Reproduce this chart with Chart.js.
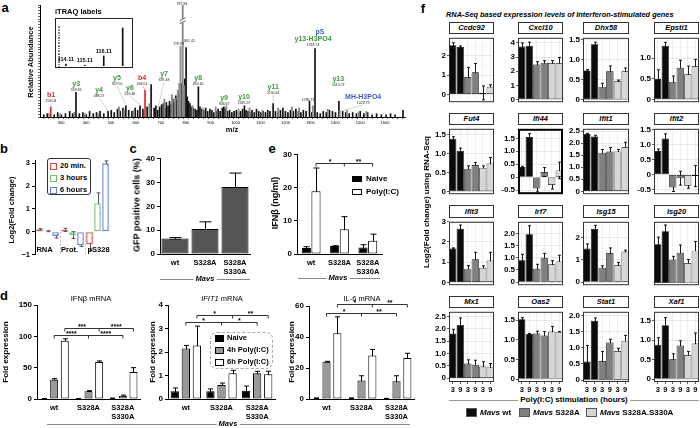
<!DOCTYPE html>
<html><head><meta charset="utf-8">
<script src="https://cdn.jsdelivr.net/npm/chart.js@4.4.1/dist/chart.umd.min.js"></script>
<style>
body{margin:0;background:#fff;}
#root{position:relative;width:700px;height:428px;overflow:hidden;background:#fff;font-family:'Liberation Sans',Arial,Helvetica,sans-serif;color:#000;}
#root canvas{position:absolute;}
.t{position:absolute;white-space:nowrap;font-weight:bold;line-height:1;}
</style></head><body><div id="root"></div>
<script>
// ---------------- DATA ----------------
// a: MS/MS spectrum
const aBlackMz = [230,244,272,286,301,317,334,346,359.36,373,387,401,414,429,442,456,471,488.27,501,513,526,537,548,559.5,571,584,597,607,616.48,628,645,661,673,680,687.48,695,703,710,716,722,729,735,742,748,754,760,765,770,783,791,796,801.41,806,811,817,823,830,838,845,850.62,857,864,872,880,888,897,905,913,922,930,938,946.67,953,960,968,976,985,994,1003,1012,1020,1028,1035.57,1042,1050,1058,1066,1075,1084,1093,1102,1111,1120,1129,1138,1150.64,1160,1170,1180,1190,1200,1210,1220,1232,1242,1252,1262,1272,1283,1296.73,1306,1318.74,1328,1340,1352,1364,1377,1389,1401,1414.73,1429.79,1442,1456,1470,1485,1500,1515,1530,1548,1566,1585,1604,1622,1640,1672];
const aBlackInt = [2,3,2,4,2,3,5,3,22,3,4,2,5,3,4,5,3,5,6,4,7,5,8,10,6,5,8,6,10,7,9,29,8,10,6,9,11,12,8,13,10,14,11,16,13,19,15,22,30,24,34,62,18,14,12,9,8,7,6,27,9,7,6,8,5,7,6,4,5,7,5,8,9,7,5,6,4,5,6,4,5,7,10,6,5,4,6,4,7,5,4,5,4,6,5,12,5,4,6,8,5,4,6,5,7,5,4,6,5,14,4,61,4,3,5,4,6,5,4,14,5,4,3,4,3,5,3,4,2,3,2,2,3,2,6];
const aGrayMz = [252,296,352,395,447,532,553,591,654,714,745,757,768,774,778.93,787.84,793,827,868,920,963,1012,1056,1108,1171,1226,1255,1310,1370,1418,1447,1494,1525];
const aGrayInt = [3,3,4,3,3,9,6,6,12,16,20,17,24,30,63,100,28,10,8,9,10,7,8,6,8,9,8,10,7,6,6,4,5];
const aRedMz = [258.03,636.51];
const aRedInt = [9,24];
const aAnnName = ['b1','y3','y4','y5','y6','b4','y7','','','','y8','y9','y10','y11','','y13-H3PO4','y13','MH-H3PO4'];
const aAnnNum = ['258.03','359.36','488.27','559.50','616.48','636.51','687.48','778.93','787.84','801.41','850.62','946.67','1035.57','1150.64','1296.73','1318.74','1414.73','1429.79'];
const aAnnKind = ['r','g','g','g','g','r','g','k','k','k','g','g','g','g','k','g','g','b'];
const aInsetMz = [114.11,115.11,116.11,117.11];
const aInsetInt = [5,2,25,95];
// b
const bGroups = ['RNA','Prot.','pS328'];
const b20 = [0.1,0.08,-0.55], b20Err = [0.03,0.07,0.27];
const b3h = [0.02,-0.15,1.25], b3hErr = [0.02,0.15,0.45];
const b6h = [-0.2,-0.6,3.0], b6hErr = [0.08,0.05,0.1];
// c
const mutLabels = ['wt','S328A',['S328A','S330A']];
const cGfp = [6.5,10.5,28.2], cGfpErr = [0.4,3.0,5.8];
// d
const dIfnN = [0.5,0.5,1.0], dIfnNErr = [0.2,0.2,0.5];
const dIfn4 = [31,12.5,5], dIfn4Err = [1.5,0.8,1.2];
const dIfn6 = [93,59,43], dIfn6Err = [3,1.8,7];
const dIfitN = [0.33,0.33,0.35], dIfitNErr = [0.14,0.1,0.2];
const dIfit4 = [2.15,0.6,1.1], dIfit4Err = [0.13,0.08,0.08];
const dIfit6 = [2.28,1.1,1.05], dIfit6Err = [0.82,0.12,0.13];
const dIl6N = [0.5,0.5,0.3], dIl6NErr = [0.2,0.2,0.1];
const dIl64 = [24,12,11.5], dIl64Err = [0.3,3,3.5];
const dIl66 = [42.5,28,26.5], dIl66Err = [10.5,4,3];
// e
const eNaive = [1.8,2.4,2.0], eNaiveErr = [0.4,0.1,0.8];
const ePoly = [19,7.5,4.0], ePolyErr = [7,3.8,2.0];
// f
const fGenes = ['Ccdc92','Cxcl10','Dhx58','Epsti1','Fut4','Ifi44','Ifit1','Ifit2','Ifit3','Irf7','Isg15','Isg20','Mx1','Oas2','Stat1','Xaf1'];
const fHours = ['3','9','3','9','3','9'];
const fMeans = [
 [2.55,2.45,0.9,1.15,0.08,0.4],
 [3.75,3.8,2.48,2.6,2.58,2.58],
 [0.73,1.38,0.32,0.71,0.46,0.71],
 [0.5,1.3,0.43,0.77,0.61,0.81],
 [1.4,1.08,0.6,0.7,0.63,0.74],
 [0.39,1.55,-0.44,0.2,-0.3,0.26],
 [2.38,2.28,1.6,1.66,1.66,1.84],
 [0.78,1.2,-0.43,-0.12,-0.37,-0.05],
 [1.68,2.66,0.68,1.14,0.72,1.08],
 [0.9,1.97,0.55,1.0,0.73,0.85],
 [1.5,2.38,0.64,1.3,0.75,1.37],
 [3.67,4.9,2.23,2.86,1.9,3.07],
 [1.81,2.16,0.6,0.55,0.48,0.45],
 [1.52,1.15,1.16,1.11,1.21,1.2],
 [0.57,1.83,0.59,1.16,0.9,1.21],
 [0.88,1.38,0.51,0.86,0.62,0.91]
];
const fErrs = [
 [0.12,0.06,0.5,0.45,0.36,0.1],
 [0.25,0.25,0.19,0.15,0.17,0.39],
 [0.02,0.05,0.09,0.13,0.03,0.08],
 [0.22,0.08,0.14,0.18,0.2,0.16],
 [0.05,0.07,0.08,0.07,0.05,0.16],
 [0.03,0.13,0.13,0.17,0.16,0.32],
 [0.03,0.05,0.14,0.16,0.08,0.2],
 [0.07,0.15,0.13,0.23,0.08,0.35],
 [0.03,0.18,0.15,0.35,0.1,0.41],
 [0.24,0.35,0.18,0.18,0.15,0.25],
 [0.21,0.16,0.09,0.23,0.13,0.06],
 [0.68,0.6,0.3,0.74,0.33,0.87],
 [0.17,0.28,0.15,0.18,0.19,0.15],
 [0.04,0.01,0.06,0.1,0.13,0.01],
 [0.5,0.09,0.29,0.1,0.08,0.17],
 [0.18,0.19,0.14,0.12,0.09,0.27]
];
const fMin = [-0.4,-0.18,-0.06,-0.06,-0.07,-0.66,-0.12,-0.65,-0.14,-0.13,-0.14,-0.2,-0.15,-0.07,-0.06,-0.07];
const fMax = [2.93,4.36,1.54,1.49,1.66,1.87,2.6,1.52,3.0,2.48,2.7,5.8,2.69,1.71,2.11,1.72];
const fStep = [1,1,0.5,0.5,0.5,0.5,0.5,0.5,1,0.5,1,2,0.5,0.5,0.5,0.5];

// ---------------- HELPERS ----------------
const FONT = "'Liberation Sans', Arial, Helvetica, sans-serif";
Chart.defaults.font.family = FONT;
Chart.defaults.font.weight = 'bold';
Chart.defaults.color = '#000';
Chart.defaults.animation = false;
Chart.defaults.events = [];
Chart.defaults.plugins.legend.display = false;
Chart.defaults.plugins.tooltip.enabled = false;
const root = document.getElementById('root');

function txt(html, x, y, size, o) {
  o = o || {};
  const d = document.createElement('div');
  d.className = 't'; d.innerHTML = html;
  d.style.left = x + 'px'; d.style.top = y + 'px'; d.style.fontSize = size + 'px';
  if (o.color) d.style.color = o.color;
  if (o.weight) d.style.fontWeight = o.weight;
  if (o.italic) d.style.fontStyle = 'italic';
  const ax = o.align === 'left' ? '0' : o.align === 'right' ? '-100%' : '-50%';
  d.style.transform = 'translate(' + ax + ',-50%)' + (o.rot ? ' rotate(-90deg)' : '');
  if (o.bg) { d.style.background = o.bg; d.style.padding = '0 2px'; }
  root.appendChild(d); return d;
}
function box(x, y, w, h, css) {
  const d = document.createElement('div');
  Object.assign(d.style, {position:'absolute', left:x+'px', top:y+'px', width:w+'px', height:h+'px', boxSizing:'border-box'}, css || {});
  root.appendChild(d); return d;
}
function mk(plot, m, type, data, scales, plugins) {
  const [x0,y0,x1,y1] = plot, [l,t,r,b] = m;
  const W = x1-x0+l+r, H = y1-y0+t+b;
  const c = document.createElement('canvas');
  c.width = W; c.height = H;
  Object.assign(c.style, {left:(x0-l)+'px', top:(y0-t)+'px', width:W+'px', height:H+'px'});
  root.appendChild(c);
  scales.x.afterFit = s => { s.height = b; };
  scales.y.afterFit = s => { s.width = l; };
  return new Chart(c, {type, data, plugins: plugins || [], options: {
    responsive:false, maintainAspectRatio:false, devicePixelRatio:1,
    layout:{padding:{top:t, right:r, left:0, bottom:0}, autoPadding:false},
    scales
  }});
}
const errPlugin = { id:'errbars', beforeDatasetsDraw(chart) {
  const ctx = chart.ctx, ys = chart.scales.y;
  chart.data.datasets.forEach((ds, i) => {
    if (!ds.errs) return;
    const meta = chart.getDatasetMeta(i);
    meta.data.forEach((bar, j) => {
      const e = ds.errs[j]; if (!e) return;
      const v = ds.data[j], x = Math.round(bar.x) + 0.5;
      const y1 = ys.getPixelForValue(v + e), y2 = ys.getPixelForValue(v - e), cw = ds.capW || 2;
      ctx.save(); ctx.strokeStyle = ds.errColor || '#000'; ctx.lineWidth = ds.errW || 1;
      ctx.beginPath(); ctx.moveTo(x, y1); ctx.lineTo(x, y2);
      ctx.moveTo(x-cw, y1); ctx.lineTo(x+cw, y1); ctx.moveTo(x-cw, y2); ctx.lineTo(x+cw, y2);
      ctx.stroke(); ctx.restore();
    });
  });
}};
function brackets(list) { return { id:'brackets', afterDatasetsDraw(chart) {
  const ctx = chart.ctx, ys = chart.scales.y;
  ctx.save(); ctx.strokeStyle = '#000'; ctx.lineWidth = 0.8; ctx.fillStyle = '#000';
  ctx.font = 'bold 7px ' + FONT; ctx.textAlign = 'center'; ctx.textBaseline = 'bottom';
  list.forEach(b => {
    const meta = chart.getDatasetMeta(b.ds);
    const xs = b.idx.map(i => meta.data[i].x);
    const y = Math.round(ys.getPixelForValue(b.y)) + 0.5;
    ctx.beginPath(); ctx.moveTo(xs[0], y); ctx.lineTo(xs[xs.length-1], y);
    xs.forEach(x => { ctx.moveTo(x, y); ctx.lineTo(x, y + 3); });
    ctx.stroke();
    b.txt.forEach((t, k) => ctx.fillText(t, (xs[k] + xs[k+1]) / 2, y + 2));
  });
  ctx.restore();
}}; }
function frame(color, w) { return { id:'frame', afterDraw(chart) {
  const a = chart.chartArea, ctx = chart.ctx;
  ctx.save(); ctx.strokeStyle = color; ctx.lineWidth = w;
  ctx.strokeRect(a.left + w/2, a.top + w/2, a.right - a.left - w, a.bottom - a.top - w);
  ctx.restore();
}}; }
const gpY = (min, max, step) => ({min, max, ticks:{stepSize:step, includeBounds:false, font:{size:8, weight:'bold'}, padding:2},
  grid:{drawOnChartArea:false, tickLength:3, color:'#000'}, border:{color:'#000', width:1}});
const gpX = () => ({grid:{drawOnChartArea:false, drawTicks:false, color:'#000'}, border:{color:'#000', width:1},
  ticks:{font:{size:7.5, weight:'bold'}, padding:4, maxRotation:0, autoSkip:false}});
const bar = (data, errs, fill, o) => Object.assign({data, errs, backgroundColor:fill, borderColor:'#000', borderWidth:1, borderSkipped:false, capW:2.5}, o || {});

// ---------------- PANEL LETTERS ----------------
txt('a', 5, 7, 13); txt('b', 4, 148, 13); txt('c', 133, 148, 13); txt('d', 4, 295, 13); txt('e', 272, 148, 13); txt('f', 423, 8, 13);

// ---------------- PANEL a ----------------
const COL = {r:'#e2262b', g:'#3c9a3c', b:'#3a5cc0', k:'#222'};
const aPlugin = { id:'aAnn', afterDatasetsDraw(chart) {
  const ctx = chart.ctx, xs = chart.scales.x, ys = chart.scales.y;
  // label positions (data units) for each annotation
  const pos = [[259,19.6],[360,29.5],[452,24.1],[524,34.8],[576,25.9],[625,34.8],[713,38.4],[771,65],[785,101],[815,68],[850,34.8],[954,17],[1034,17.9],[1151,26.8],[1291,15.2],[1311,69.6],[1412,33.9],[1512,17.9]];
  const leader = [0,0,1,1,1,1,1,0,0,0,0,0,0,1,0,0,0,1];
  ctx.save(); ctx.textAlign = 'center'; ctx.textBaseline = 'middle';
  const bx = xs.getPixelForValue(787.84), by = ys.getPixelForValue(86);
  ctx.fillStyle = '#fff'; ctx.fillRect(bx-3, by-2, 6, 4);
  ctx.strokeStyle = '#333'; ctx.lineWidth = 0.8; ctx.beginPath();
  ctx.moveTo(bx-3, by); ctx.lineTo(bx+3, by-3); ctx.moveTo(bx-3, by+3); ctx.lineTo(bx+3, by); ctx.stroke();
  aAnnNum.forEach((num, i) => {
    const px = xs.getPixelForValue(pos[i][0]), py = ys.getPixelForValue(pos[i][1]);
    const peak = parseFloat(num);
    const name = aAnnName[i];
    if (leader[i]) {
      const allMz = aBlackMz.concat(aGrayMz, aRedMz), allInt = aBlackInt.concat(aGrayInt, aRedInt);
      const k = allMz.findIndex(m => Math.abs(m - peak) < 0.01);
      const ptop = ys.getPixelForValue(k >= 0 ? allInt[k] : 3);
      ctx.strokeStyle = aAnnKind[i] === 'r' ? '#f08080' : '#a8d8a0';
      ctx.lineWidth = 0.7; ctx.beginPath(); ctx.moveTo(px, py + 8); ctx.lineTo(xs.getPixelForValue(peak), ptop - 1); ctx.stroke();
    }
    if (name) {
      if (i === 15) { ctx.fillStyle = COL.b; ctx.font = 'bold 7px ' + FONT; ctx.fillText('pS', px + 7, py - 7); }
      ctx.fillStyle = COL[aAnnKind[i]]; ctx.font = 'bold 7px ' + FONT; ctx.fillText(name, px, py);
      ctx.fillStyle = '#222'; ctx.font = '3.5px ' + FONT; ctx.fillText(num, px, py + 6);
    } else {
      ctx.fillStyle = '#222'; ctx.font = '3.5px ' + FONT; ctx.fillText(num, px, py);
    }
  });
  ctx.restore();
}};
const pk = (mz, it) => mz.map((x, i) => ({x, y: it[i]}));
mk([40,5,405,117],[5,5,2,10],'bar',{datasets:[
  {data:pk(aGrayMz, aGrayInt), backgroundColor:'#8a8a8a', barThickness:1.2, grouped:false},
  {data:pk(aBlackMz, aBlackInt), backgroundColor:'#111', barThickness:1, grouped:false},
  {data:pk(aRedMz, aRedInt), backgroundColor:'#e2262b', barThickness:1, grouped:false}
]},{
  x:{type:'linear', min:215, max:1680, offset:false, grid:{drawOnChartArea:false, tickLength:2, color:'#000', lineWidth:0.6},
     border:{color:'#000'}, ticks:{stepSize:20, autoSkip:false, maxRotation:0, padding:1, font:{size:4, weight:'normal'},
     callback:v => (v % 100 === 0 && v >= 300 && v <= 1600) ? String(v) : ''}},
  y:{min:0, max:100, grid:{drawOnChartArea:false, tickLength:2, color:'#000', lineWidth:0.6}, border:{color:'#000'},
     ticks:{display:false, stepSize:2.5, includeBounds:false}}
},[aPlugin]);
txt('Relative Abundance', 31, 62, 7.5, {rot:true});
txt('m/z', 232, 130, 7.5);
box(55, 18, 78, 50, {border:'1px solid #222'});
txt('iTRAQ labels', 55, 12, 7.5, {align:'left'});
const insetPlugin = { id:'inset', afterDatasetsDraw(chart) {
  const ctx = chart.ctx, xs = chart.scales.x, ys = chart.scales.y;
  ctx.save(); ctx.fillStyle = '#000'; ctx.font = 'bold 5.5px ' + FONT; ctx.textAlign = 'center'; ctx.textBaseline = 'bottom';
  aInsetMz.forEach((m, i) => ctx.fillText(m.toFixed(2), xs.getPixelForValue(m), ys.getPixelForValue(aInsetInt[i]) - 2));
  ctx.restore();
}};
mk([60,26,131,66],[2,1,1,1],'bar',{datasets:[{data:pk(aInsetMz, aInsetInt), backgroundColor:'#111', barThickness:1}]},{
  x:{type:'linear', min:113.8, max:117.55, offset:false, display:true, grid:{display:false}, border:{display:false}, ticks:{display:false}},
  y:{min:0, max:100, grid:{drawOnChartArea:false, tickLength:2, color:'#333', lineWidth:0.6}, border:{display:false}, ticks:{display:false, stepSize:4, includeBounds:false}}
},[insetPlugin]);

// ---------------- PANEL b ----------------
const BR = '#e24a46', BG = '#74c066', BB = '#5b7ee0';
const bExtras = { id:'bExtras', afterDatasetsDraw(chart) {
  const ctx = chart.ctx, xs = chart.scales.x, ys = chart.scales.y;
  ctx.save(); ctx.strokeStyle = '#aaa'; ctx.lineWidth = 0.8; ctx.setLineDash([2,2]);
  [0.5, 1.5].forEach(v => { const x = Math.round(xs.getPixelForValue(v)) + 0.5; ctx.beginPath(); ctx.moveTo(x, ys.getPixelForValue(0)); ctx.lineTo(x, ys.getPixelForValue(-1)); ctx.stroke(); });
  ctx.setLineDash([]); ctx.fillStyle = '#000'; ctx.font = 'bold 7.5px ' + FONT; ctx.textAlign = 'center'; ctx.textBaseline = 'middle';
  bGroups.forEach((g, i) => ctx.fillText(g, xs.getPixelForValue(i) + (i === 2 ? 1 : -3), ys.getPixelForValue(-0.78)));
  ctx.restore();
}};
const bOpt = {barPercentage:0.82, categoryPercentage:0.96, borderWidth:1.4, capW:2, errColor:'#555'};
mk([35,158,110,259],[16,4,2,2],'bar',{labels:bGroups, datasets:[
  bar(b20, b20Err, '#fff', Object.assign({borderColor:BR}, bOpt)),
  bar(b3h, b3hErr, '#fff', Object.assign({borderColor:BG}, bOpt)),
  bar(b6h, b6hErr, '#fff', Object.assign({borderColor:BB}, bOpt))
]},{
  x:{display:true, grid:{display:false}, border:{display:false}, ticks:{display:false}},
  y:Object.assign(gpY(-1, 3.12, 1), {ticks:{stepSize:1, includeBounds:false, font:{size:7.5, weight:'bold'}, padding:2, callback:v => v < 0 ? '\u2212' + Math.abs(v) : String(v)}})
},[errPlugin, bExtras]);
txt('Log2(Fold change)', 12, 210, 7.5, {rot:true});
box(47, 158, 44, 37, {border:'1px solid #333', borderRadius:'3px', background:'#fff'});
[['20 min.', BR, 166], ['3 hours', BG, 178], ['6 hours', BB, 190]].forEach(([s, c, y]) => {
  box(50, y-3, 7, 7, {border:'1.3px solid ' + c, background:'#fff'});
  txt(s, 60, y, 7.5, {align:'left'});
});

// ---------------- PANEL c ----------------
mk([160,156,250,254],[22,4,2,26],'bar',{labels:mutLabels, datasets:[
  bar(cGfp, cGfpErr, '#555', {barPercentage:0.9, categoryPercentage:1, capW:6})
]},{x:gpX(), y:gpY(0, 40, 10)},[errPlugin]);
txt('GFP positive cells (%)', 137, 205, 9, {rot:true});
box(160, 279, 90, 1, {background:'#888'});
txt('Mavs', 205, 279, 7.5, {italic:true, bg:'#fff'});

// ---------------- PANEL e ----------------
mk([297,152,382,254],[22,4,2,26],'bar',{labels:mutLabels, datasets:[
  bar(eNaive, eNaiveErr, '#000', {barPercentage:0.95, categoryPercentage:0.68, capW:3}),
  bar(ePoly, ePolyErr, '#fff', {barPercentage:0.95, categoryPercentage:0.68, capW:3})
]},{x:gpX(), y:gpY(0, 30, 10)},[errPlugin, brackets([{ds:1, idx:[0,1,2], y:27.6, txt:['*','**']}])]);
txt('IFN\u03b2 (ng/ml)', 275, 203, 9, {rot:true});
box(352, 176, 10, 6, {background:'#000', border:'1px solid #000'});
txt('Naive', 366, 179, 8, {align:'left'});
box(352, 189, 10, 6, {background:'#fff', border:'1px solid #000'});
txt('Poly(I:C)', 366, 192, 8, {align:'left'});
box(298, 278, 82, 1, {background:'#888'});
txt('Mavs', 338, 278, 7.5, {italic:true, bg:'#fff'});

// ---------------- PANEL d ----------------
const dOpt = {barPercentage:0.75, categoryPercentage:0.93, capW:2.5};
mk([37,305,140,399],[30,14,2,22],'bar',{labels:mutLabels, datasets:[
  bar(dIfnN, dIfnNErr, '#000', dOpt), bar(dIfn4, dIfn4Err, '#999', dOpt), bar(dIfn6, dIfn6Err, '#fff', dOpt)
]},{x:gpX(), y:gpY(0, 150, 50)},[errPlugin, brackets([{ds:2, idx:[0,1,2], y:113, txt:['***','****']},{ds:1, idx:[0,1,2], y:102, txt:['****','****']}])]);
mk([168,305,275,399],[20,14,2,22],'bar',{labels:mutLabels, datasets:[
  bar(dIfitN, dIfitNErr, '#000', dOpt), bar(dIfit4, dIfit4Err, '#999', dOpt), bar(dIfit6, dIfit6Err, '#fff', dOpt)
]},{x:gpX(), y:gpY(0, 4, 1)},[errPlugin, brackets([{ds:2, idx:[0,1,2], y:3.57, txt:['*','**']},{ds:1, idx:[0,1,2], y:3.28, txt:['*','*']}])]);
mk([309,306,414,399],[22,14,2,22],'bar',{labels:mutLabels, datasets:[
  bar(dIl6N, dIl6NErr, '#000', dOpt), bar(dIl64, dIl64Err, '#999', dOpt), bar(dIl66, dIl66Err, '#fff', dOpt)
]},{x:gpX(), y:gpY(0, 60, 20)},[errPlugin, brackets([{ds:2, idx:[0,1,2], y:61.3, txt:['*','**']},{ds:1, idx:[0,1,2], y:55.5, txt:['*','**']}])]);
txt('IFN\u03b2 mRNA', 91, 299, 7.5, {weight:'normal'});
txt('<i>IFIT1</i> mRNA', 222, 299, 7.5, {weight:'normal'});
txt('IL-6 mRNA', 362, 299, 7.5, {weight:'normal'});
txt('Fold expression', 6, 352, 8, {rot:true});
txt('Fold expression', 153, 352, 8, {rot:true});
txt('Fold expression', 292, 352, 8, {rot:true});
box(210, 332, 63, 37, {border:'1px dashed #aaa', borderRadius:'7px', background:'#fff'});
[['Naive','#000',338],['4h Poly(I:C)','#999',350],['6h Poly(I:C)','#fff',362]].forEach(([s, c, y]) => {
  box(215, y-3, 9, 7, {background:c, border:'1px solid #000'});
  txt(s, 227, y, 7.5, {align:'left'});
});
box(47, 424, 363, 1, {background:'#888'});
txt('Mavs', 228, 424, 7.5, {italic:true, bg:'#fff'});

// ---------------- PANEL f ----------------
txt('RNA-Seq based expression levels of Interferon-stimulated genes', 446, 15, 7.4, {align:'left', italic:true});
const fColX = [[449,494],[518,563],[583,629],[654,699]];
const fRowY = [[33,108],[124,200],[217,291],[307,382]];
const fStripY = [[22,33],[113,124],[205,217],[296,307]];
const fFill = ['#0b0b0b','#0b0b0b','#808080','#808080','#d6d6d6','#d6d6d6'];
fGenes.forEach((g, k) => {
  const r = Math.floor(k / 4), c = k % 4, bottom = r === 3, step = fStep[k];
  const major = v => Math.abs(v / step - Math.round(v / step)) < 1e-6;
  const [x0, x1] = fColX[c], [y0, y1] = fRowY[r];
  mk([x0, y0, x1, y1],[20, 1, 1, bottom ? 10 : 0],'bar',{labels:fHours, datasets:[
    {data:fMeans[k], errs:fErrs[k], backgroundColor:fFill, borderColor:'#000', borderWidth:0.7, borderSkipped:false,
     barPercentage:0.97, categoryPercentage:1, capW:1.5, errW:0.9}
  ]},{
    x:{display:true, grid:{offset:false, color:'#ebebeb', lineWidth:0.8, drawTicks:bottom, tickLength:2, tickColor:'#333'}, border:{display:false},
       ticks:{display:bottom, font:{size:7.5, weight:'bold'}, padding:1, maxRotation:0, autoSkip:false}},
    y:{min:fMin[k], max:fMax[k], border:{display:false},
       grid:{lineWidth:0.8, color:x => x.tick && major(x.tick.value) ? '#e2e2e2' : '#f3f3f3', tickLength:2,
             tickColor:x => x.tick && major(x.tick.value) ? '#333' : 'rgba(0,0,0,0)'},
       ticks:{stepSize:step / 2, includeBounds:false, font:{size:8, weight:'bold'}, padding:1,
              callback:v => major(v) ? (Math.abs(v) < 1e-9 ? '0' : (step < 1 ? v.toFixed(1) : String(Math.round(v)))) : ''}}
  },[errPlugin, frame(g === 'Ifi44' ? '#000' : '#333', g === 'Ifi44' ? 2 : 1)]);
  const [s0, s1] = fStripY[r];
  box(x0, s0, x1 - x0, s1 - s0 + 1, {border:'1px solid #333', background:'#fff'});
  txt(g, (x0 + x1) / 2, (s0 + s1) / 2 + 0.5, 7.5, {italic:true});
});
txt('Log2(Fold change) using RNA-Seq', 427, 202, 8, {rot:true});
box(449, 400, 250, 1, {background:'#999'});
txt('Poly(I:C) stimulation (hours)', 574, 400, 8, {bg:'#fff'});
[['<i>Mavs</i> wt','#0b0b0b',466],['<i>Mavs</i> S328A','#808080',519],['<i>Mavs</i> S328A.S330A','#d6d6d6',586]].forEach(([s, c, x]) => {
  box(x, 408, 11, 9, {background:c, border:'0.6px solid #555'});
  txt(s, x + 14, 412.5, 8, {align:'left'});
});
</script></body></html>
